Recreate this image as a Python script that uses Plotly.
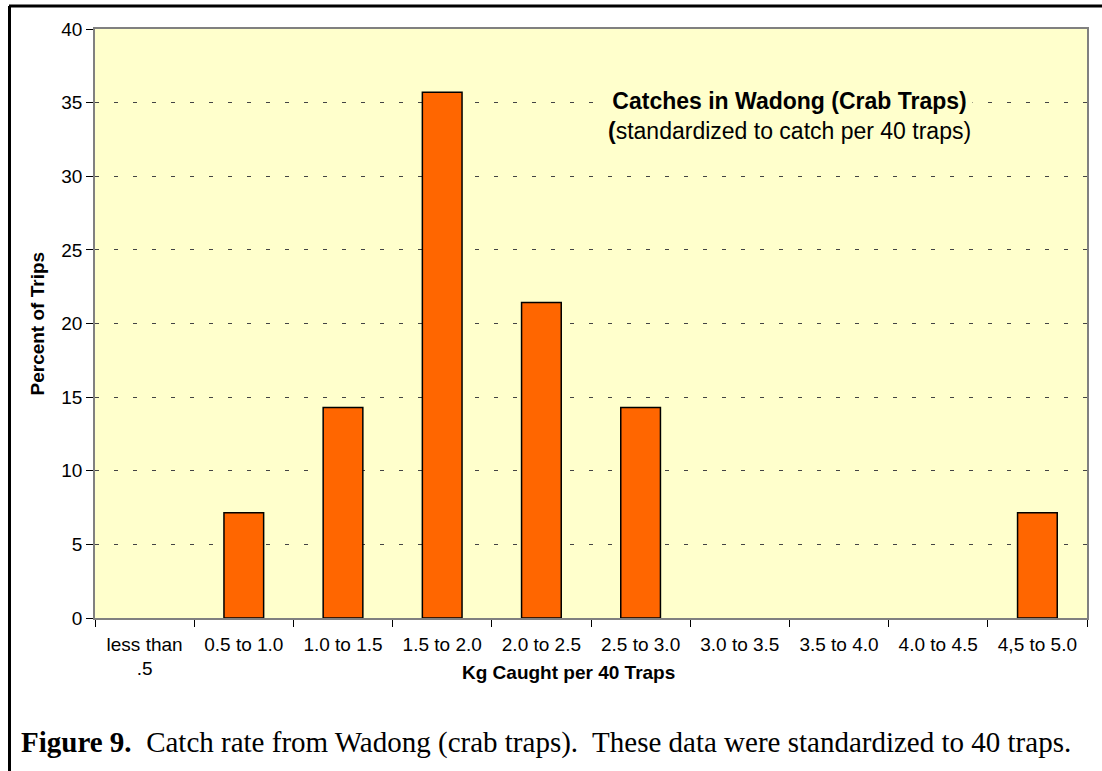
import plotly.graph_objects as go

# catch-rate classes and share of trips (%)
categories = ["less than<br>.5", "0.5 to 1.0", "1.0 to 1.5", "1.5 to 2.0", "2.0 to 2.5",
              "2.5 to 3.0", "3.0 to 3.5", "3.5 to 4.0", "4.0 to 4.5", "4,5 to 5.0"]
percent_trips = [0, 7.14, 14.29, 35.71, 21.43, 14.29, 0, 0, 0, 7.14]
y_ticks = [0, 5, 10, 15, 20, 25, 30, 35, 40]

W, H = 1102, 771
L, R, T, B = 95, 15, 29, 153
pw, ph = W - L - R, H - T - B


def px(x):
    return (x - L) / pw


def py(y):
    return (H - B - y) / ph


fig = go.Figure()
# empty classes are left out so no flat outline is drawn at zero
fig.add_trace(go.Bar(
    x=categories, y=[v if v > 0 else None for v in percent_trips],
    marker=dict(color="#FF6600", line=dict(color="black", width=1.5)),
    width=0.4, showlegend=False,
))

font = "Liberation Sans, Arial, sans-serif"
fig.update_layout(
    width=W, height=H,
    margin=dict(l=L, r=R, t=T, b=B),
    paper_bgcolor="white", plot_bgcolor="#FFFFCC",
    font=dict(family=font, size=19, color="black"),
    xaxis=dict(
        showgrid=False, tickson="boundaries", ticks="outside", ticklen=7,
        tickcolor="black", showline=True, linecolor="#808080", linewidth=1.5,
        mirror=True, tickfont=dict(size=19), ticklabelstandoff=8,
    ),
    yaxis=dict(
        range=[0, 40], tickvals=y_ticks, ticks="outside", ticklen=7,
        tickcolor="black", showline=True, linecolor="#808080", linewidth=1.5,
        mirror=True, showgrid=True, gridcolor="#444444", gridwidth=1,
        griddash="4px,15px", zeroline=False, tickfont=dict(size=19),
    ),
)

# axis titles
fig.add_annotation(x=px(37), y=0.5, xref="paper", yref="paper", textangle=-90,
                   xanchor="center", yanchor="middle",
                   text="<b>Percent of Trips</b>", showarrow=False,
                   font=dict(size=19))
fig.add_annotation(x=px(568), y=py(672), xref="paper", yref="paper",
                   xanchor="center", yanchor="middle",
                   text="<b>Kg Caught per 40 Traps</b>", showarrow=False,
                   font=dict(size=19))

# in-plot title
fig.add_annotation(x=px(789), y=py(116), xref="paper", yref="paper",
                   xanchor="center", yanchor="middle",
                   text="<b>Catches in Wadong (Crab Traps)</b><br><b>(</b>standardized to catch per 40 traps)",
                   showarrow=False, bgcolor="#FFFFCC", font=dict(size=23),
                   align="center")

# caption
fig.add_annotation(x=px(19), y=py(742), xref="paper", yref="paper",
                   xanchor="left", yanchor="middle",
                   text="<b>Figure 9.</b>&nbsp; Catch rate from Wadong (crab traps).&nbsp; These data were standardized to 40 traps.",
                   showarrow=False,
                   font=dict(family="Liberation Serif, Times New Roman, serif", size=29))

# outer frame (top and left only)
fig.add_shape(type="line", xref="paper", yref="paper", x0=px(9), x1=px(W), y0=py(6), y1=py(6),
              line=dict(color="black", width=3))
fig.add_shape(type="line", xref="paper", yref="paper", x0=px(9.5), x1=px(9.5), y0=py(6), y1=py(H),
              line=dict(color="black", width=3))

fig.write_html("out.html", config={"displayModeBar": False},
               post_script="document.body.style.margin='0';")
